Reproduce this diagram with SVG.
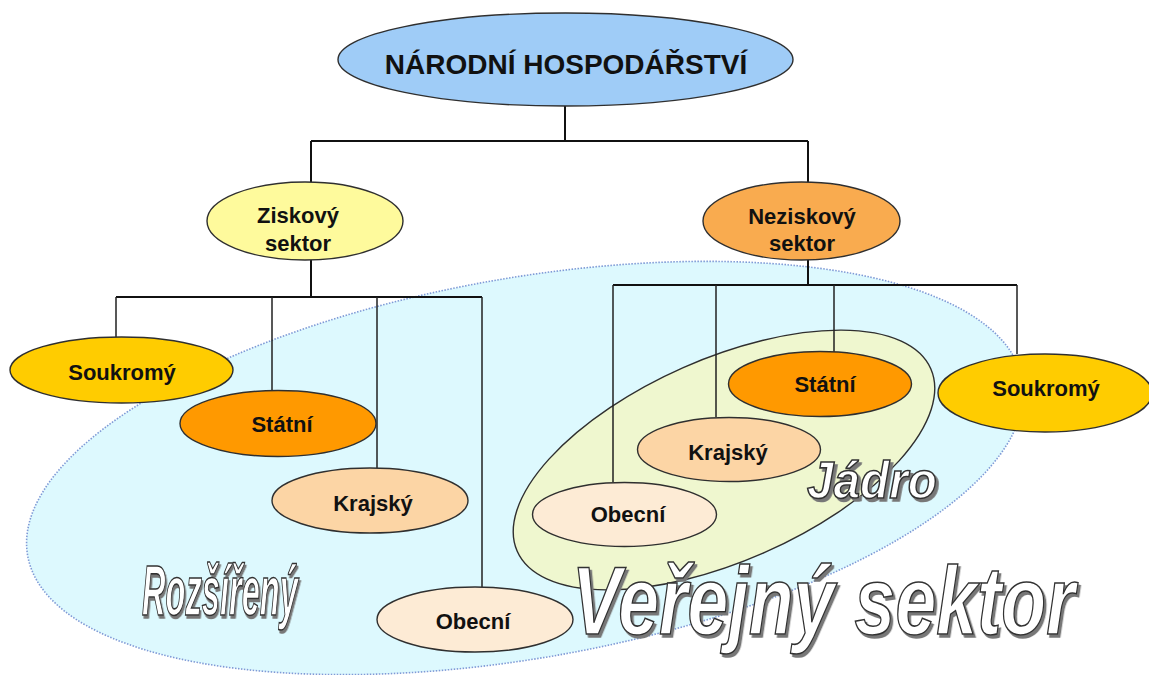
<svg xmlns="http://www.w3.org/2000/svg" width="1149" height="675" viewBox="0 0 1149 675">
  <defs>
    <style>
      .node { stroke: #2f2f2f; stroke-width: 1.4; }
      .lbl { font-family: "Liberation Sans", Arial, sans-serif; font-weight: bold; font-size: 22px; fill: #111; text-anchor: middle; }
      .conn { stroke: #111; stroke-width: 2; fill: none; }
      .conn2 { stroke: #222; stroke-width: 1.5; fill: none; }
      .art { font-family: "Liberation Sans", Arial, sans-serif; font-weight: bold; font-style: italic; fill: #ffffff; stroke: #333; stroke-width: 1.6; filter: url(#shadow); }
    </style>
    <filter id="shadow" x="-10%" y="-40%" width="130%" height="190%">
      <feDropShadow dx="3" dy="3" stdDeviation="0.6" flood-color="#777777" flood-opacity="1"/>
    </filter>
  </defs>

  <rect width="1149" height="675" fill="#ffffff"/>

  <g id="region-rozsireny">
    <ellipse cx="0" cy="0" rx="505" ry="190" transform="translate(525 468) rotate(-10)" fill="#ddf9fe" stroke="#7f9ad6" stroke-width="1.6" stroke-dasharray="1.5 1.5"/>
  </g>
  <g id="region-jadro">
    <ellipse cx="0" cy="0" rx="226" ry="101" transform="translate(724 460) rotate(-23.8)" fill="#eff7cf" stroke="#2f2f2f" stroke-width="1.4"/>
  </g>

  <g id="connectors">
    <path class="conn" d="M565 106 V141 M311 141 H808 M311 141 V182 M808 141 V182"/>
    <path class="conn" d="M311 260 V297 M116 297 H482"/>
    <path class="conn2" d="M116 297 V337 M272 297 V391 M377 297 V468 M482 297 V587"/>
    <path class="conn" d="M808 260 V285 M613 285 H1017"/>
    <path class="conn2" d="M613 285 V482 M716 285 V417 M834 285 V352 M1017 285 V354"/>
  </g>

  <g id="node-narodni">
    <ellipse class="node" cx="565.5" cy="59.5" rx="227.5" ry="46.5" fill="#9fccf7"/>
    <text class="lbl" x="566" y="74" style="font-size:28px">NÁRODNÍ HOSPODÁŘSTVÍ</text>
  </g>
  <g id="node-ziskovy">
    <ellipse class="node" cx="305" cy="221" rx="98" ry="39" fill="#fefa9c"/>
    <text class="lbl" x="298" y="223">Ziskový</text>
    <text class="lbl" x="298" y="251">sektor</text>
  </g>
  <g id="node-neziskovy">
    <ellipse class="node" cx="801.5" cy="221" rx="98.5" ry="39" fill="#f9ab4f"/>
    <text class="lbl" x="802" y="224">Neziskový</text>
    <text class="lbl" x="802" y="251">sektor</text>
  </g>

  <g id="node-soukromy-l">
    <ellipse class="node" cx="121.5" cy="370" rx="111.5" ry="33" fill="#ffcc00"/>
    <text class="lbl" x="122" y="380">Soukromý</text>
  </g>
  <g id="node-statni-l">
    <ellipse class="node" cx="278" cy="423.5" rx="98" ry="33" fill="#ff9900"/>
    <text class="lbl" x="282" y="432">Státní</text>
  </g>
  <g id="node-krajsky-l">
    <ellipse class="node" cx="370" cy="500.5" rx="98" ry="32.5" fill="#fcd5a5"/>
    <text class="lbl" x="373" y="511">Krajský</text>
  </g>
  <g id="node-obecni-l">
    <ellipse class="node" cx="475" cy="619.5" rx="98" ry="32.5" fill="#fdebd5"/>
    <text class="lbl" x="473" y="629">Obecní</text>
  </g>

  <g id="node-statni-r">
    <ellipse class="node" cx="820" cy="384" rx="91.5" ry="32.5" fill="#ff9900"/>
    <text class="lbl" x="825" y="392">Státní</text>
  </g>
  <g id="node-krajsky-r">
    <ellipse class="node" cx="729" cy="449.5" rx="91.5" ry="32" fill="#fcd5a5"/>
    <text class="lbl" x="728" y="460">Krajský</text>
  </g>
  <g id="node-obecni-r">
    <ellipse class="node" cx="624.5" cy="514.5" rx="92" ry="32" fill="#fdebd5"/>
    <text class="lbl" x="628" y="522">Obecní</text>
  </g>
  <g id="node-soukromy-r">
    <ellipse class="node" cx="1045" cy="393" rx="107" ry="39" fill="#ffcc00"/>
    <text class="lbl" x="1046" y="396">Soukromý</text>
  </g>

  <g id="labels">
    <text class="art" transform="translate(142 615) scale(0.466 1)" font-size="70" stroke-width="2.4">Rozšířený</text>
    <text class="art" transform="translate(807 498) scale(0.918 1)" font-size="52" stroke-width="1.7">Jádro</text>
    <text class="art" transform="translate(572 634) scale(0.764 1)" font-size="96" stroke-width="2">Veřejný sektor</text>
  </g>
</svg>
